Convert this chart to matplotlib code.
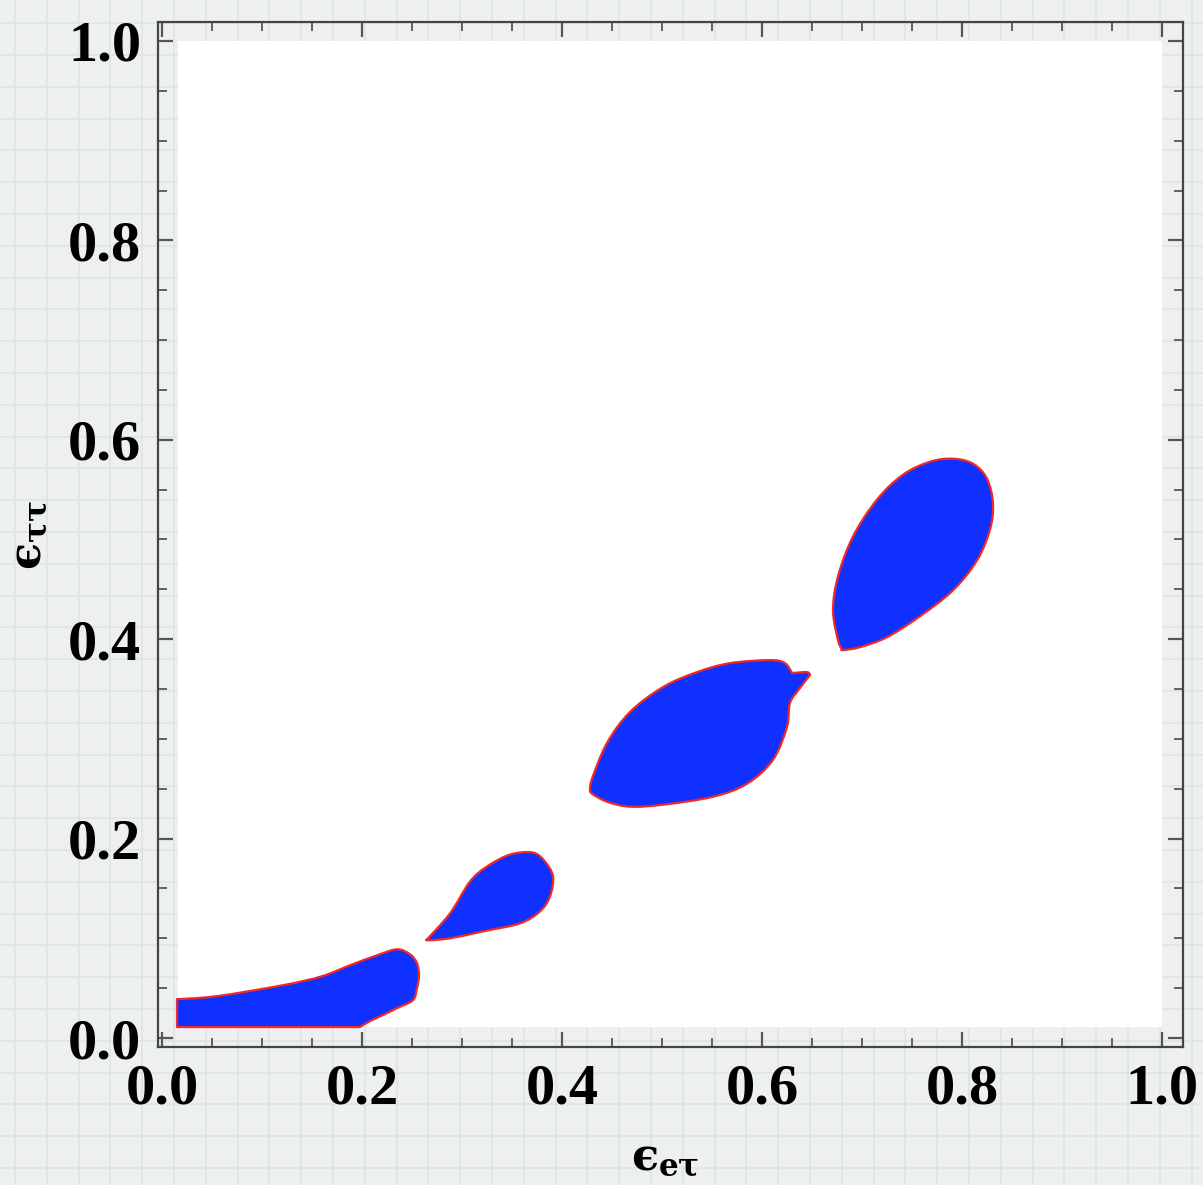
import matplotlib
matplotlib.use("Agg")
import matplotlib.pyplot as plt
import numpy as np
from matplotlib.patches import PathPatch, Rectangle
from matplotlib.path import Path
from matplotlib.lines import Line2D
from matplotlib.ticker import MultipleLocator

plt.rcParams['mathtext.fontset'] = 'custom'
plt.rcParams['mathtext.rm'] = 'DejaVu Serif:bold'
plt.rcParams['mathtext.it'] = 'DejaVu Serif:bold'
plt.rcParams['mathtext.bf'] = 'DejaVu Serif:bold'

# ---- data: allowed-region contours (eps_etau, eps_tautau) ----
region1_x = [0.015, 0.015, 0.055, 0.121, 0.160, 0.188, 0.215, 0.235, 0.248, 0.255, 0.257, 0.255, 0.251, 0.235, 0.221, 0.208, 0.198]
region1_y = [0.011, 0.039, 0.042, 0.053, 0.062, 0.073, 0.083, 0.089, 0.084, 0.075, 0.063, 0.050, 0.038, 0.030, 0.023, 0.017, 0.011]
region1_sharp = [0, 1, 16]

region2_x = [0.265, 0.288, 0.308, 0.325, 0.348, 0.371, 0.383, 0.391, 0.388, 0.378, 0.358, 0.321, 0.288, 0.266]
region2_y = [0.099, 0.125, 0.157, 0.172, 0.184, 0.186, 0.177, 0.162, 0.142, 0.127, 0.115, 0.107, 0.100, 0.098]
region2_sharp = [0]

region3_x = [0.428, 0.430, 0.445, 0.468, 0.501, 0.535, 0.568, 0.608, 0.623, 0.630, 0.645, 0.648, 0.638, 0.628, 0.625, 0.611, 0.585, 0.551, 0.501, 0.468, 0.445, 0.430]
region3_y = [0.249, 0.260, 0.296, 0.327, 0.352, 0.367, 0.376, 0.379, 0.376, 0.366, 0.367, 0.364, 0.351, 0.336, 0.312, 0.279, 0.255, 0.242, 0.234, 0.232, 0.237, 0.245]
region3_sharp = [0, 9, 11]

region4_x = [0.680, 0.676, 0.671, 0.676, 0.691, 0.715, 0.741, 0.768, 0.791, 0.811, 0.825, 0.831, 0.828, 0.815, 0.791, 0.758, 0.725, 0.698, 0.681]
region4_y = [0.390, 0.399, 0.429, 0.463, 0.503, 0.540, 0.565, 0.578, 0.581, 0.576, 0.561, 0.536, 0.510, 0.479, 0.449, 0.423, 0.402, 0.392, 0.389]
region4_sharp = [0]

regions = [(region1_x, region1_y, region1_sharp), (region2_x, region2_y, region2_sharp),
           (region3_x, region3_y, region3_sharp), (region4_x, region4_y, region4_sharp)]

x_ticks = [0.0, 0.2, 0.4, 0.6, 0.8, 1.0]
y_ticks = [0.0, 0.2, 0.4, 0.6, 0.8, 1.0]
tick_labels = ["0.0", "0.2", "0.4", "0.6", "0.8", "1.0"]
plot_range_x = (0.016, 1.0)
plot_range_y = (0.011, 1.0)
x_label = '$\u03f5_{e\\tau}$'
y_label = '$\u03f5_{\\tau\\tau}$'


def smooth_path(xs, ys, sharp):
    """Closed Catmull-Rom curve through the given vertices, drawn as cubic Beziers."""
    P = np.column_stack([xs, ys])
    n = len(P)
    T = np.zeros_like(P)
    for i in range(n):
        if i not in sharp:
            T[i] = (P[(i + 1) % n] - P[(i - 1) % n]) / 6.0
    verts = [P[0]]
    codes = [Path.MOVETO]
    for i in range(n):
        j = (i + 1) % n
        verts += [P[i] + T[i], P[j] - T[j], P[j]]
        codes += [Path.CURVE4] * 3
    verts.append(P[0])
    codes.append(Path.CLOSEPOLY)
    return Path(verts, codes)


W, H = 1203, 1185
fig = plt.figure(figsize=(W / 100, H / 100), dpi=100)
fig.patch.set_facecolor('#eef0f0')

# grid-paper background
gc = '#dce4e8'
x0 = 15.0
while x0 < W:
    fig.add_artist(Line2D([x0 / W, x0 / W], [0, 1], color=gc, lw=1.2, zorder=0))
    x0 += 31.8
y0 = 55.0 - 31.8
while y0 < H:
    fig.add_artist(Line2D([0, 1], [1 - y0 / H, 1 - y0 / H], color=gc, lw=1.2, zorder=0))
    y0 += 31.8

ax = fig.add_axes([158 / W, 1 - 1047 / H, 1025 / W, 1025 / H])
ax.set_facecolor('none')
ax.set_xlim(-0.004, 1.021)
ax.set_ylim(-0.009, 1.019)

ax.add_patch(Rectangle((plot_range_x[0], plot_range_y[0]),
                       plot_range_x[1] - plot_range_x[0],
                       plot_range_y[1] - plot_range_y[0],
                       facecolor='white', edgecolor='none', zorder=0))

for xs, ys, sharp in regions:
    ax.add_patch(PathPatch(smooth_path(xs, ys, sharp), facecolor='#1030ff',
                           edgecolor='#f02828', lw=1.6, joinstyle='round', zorder=2))

ax.set_xticks(x_ticks)
ax.set_yticks(y_ticks)
ax.xaxis.set_minor_locator(MultipleLocator(0.05))
ax.yaxis.set_minor_locator(MultipleLocator(0.05))
ax.tick_params(which='both', direction='in', top=True, right=True, color='#555555')
ax.tick_params(which='major', length=11, width=1.6)
ax.tick_params(which='minor', length=6.5, width=1.3)
ax.tick_params(axis='x', which='major', pad=12)
ax.tick_params(axis='y', which='major', pad=12)
ax.set_xticklabels(tick_labels, fontsize=42, fontfamily='Liberation Serif', fontweight='bold')
ax.set_yticklabels(tick_labels, fontsize=42, fontfamily='Liberation Serif', fontweight='bold')

for s in ax.spines.values():
    s.set_color('#444444')
    s.set_linewidth(1.6)

fig.text(665 / W, 1 - 1158 / H, x_label, fontsize=32, ha='center', va='center')
fig.text(30 / W, 1 - 535 / H, y_label, fontsize=32, ha='center', va='center', rotation=90)

fig.savefig('out.png', dpi=100, facecolor=fig.get_facecolor())
